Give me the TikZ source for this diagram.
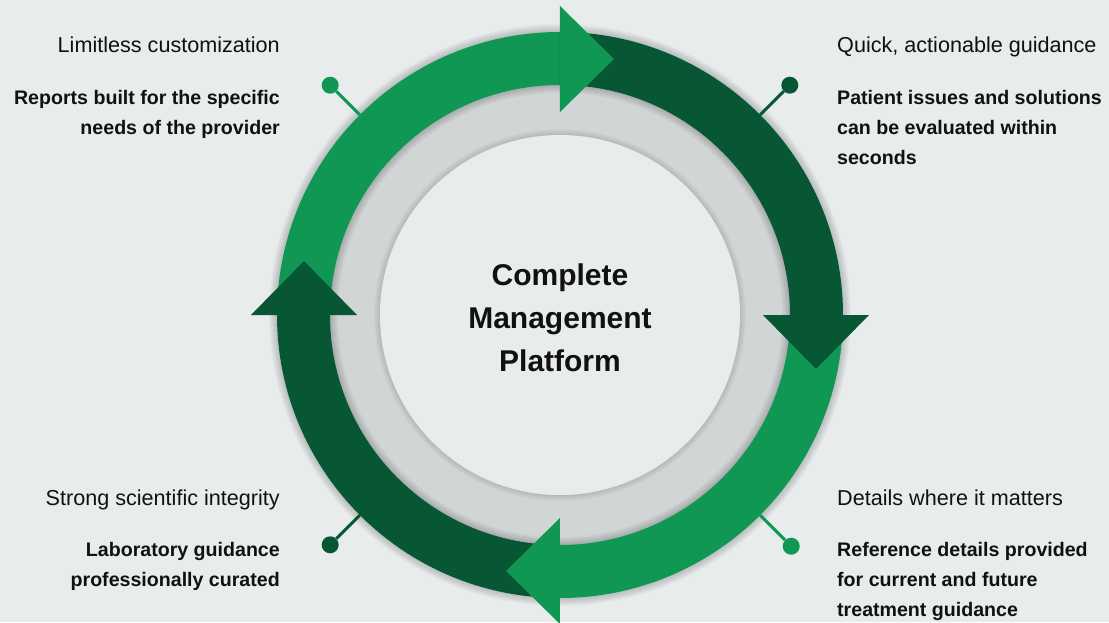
\documentclass[tikz,border=0pt]{standalone}
\usepackage{fontspec}
\setmainfont{Liberation Sans}
\usetikzlibrary{calc}
\definecolor{bgGray}{HTML}{E8ECEC}
\definecolor{bandGray}{HTML}{D1D5D6}
\definecolor{leafGreen}{HTML}{109753}
\definecolor{pineGreen}{HTML}{075734}
\definecolor{inkBlack}{HTML}{111111}
\def\ringseg[#1](#2:#3){\fill[#1] (#2:283pt) arc (#2:#3:283pt) -- (#3:230pt) arc (#3:#2:230pt) -- cycle;}
\def\ringhead[#1](#2){\fill[#1, rotate=#2] (203,0) -- (309,0) -- (256,-54) -- cycle;}
\tikzset{
	topic/.style={font=\fontsize{21.6}{30}\selectfont, text=inkBlack, inner sep=0},
	blurb/.style={font=\bfseries\fontsize{19.6}{30}\selectfont, text=inkBlack, inner sep=0},
	pindot/.style={circle, inner sep=0, minimum size=17pt},
	pinline/.style={line width=3pt},
}

\begin{document}
\begin{tikzpicture}[x=1pt, y=1pt]
			%%%%% START %%%%%
			
			\useasboundingbox (-560, -307) rectangle (549, 315);
			\fill[bgGray] (-560, -307) rectangle (549, 315);
			
			\fill[bandGray] (0, 0) circle (240pt);
			
			% soft shadow round the ring and the inner disk
			\foreach \s [evaluate=\s as \w using 53+2*\s] in {1,...,8}
				\draw[black, opacity=0.025, line width=\w pt] (0, 0) circle (256.5pt);
			\foreach \s in {1,...,6}
				\draw[black, opacity=0.02, line width=2*\s pt] (0, 0) circle (180pt);
			\fill[bgGray] (0, 0) circle (180pt);
			
			\ringseg[leafGreen](180:90)
			\ringseg[pineGreen](90:0)
			\ringseg[leafGreen](0:-90)
			\ringseg[pineGreen](-90:-180)
			
			\ringhead[leafGreen](90)
			\ringhead[pineGreen](0)
			\ringhead[leafGreen](-90)
			\ringhead[pineGreen](180)
			
			\node[pindot, fill=leafGreen] (dotTL) at (135:325) {};
			\coordinate (rimTL) at (135:283);
			\draw[pinline, leafGreen] (dotTL) -- (rimTL);
			\node[pindot, fill=pineGreen] (dotTR) at (45:325) {};
			\coordinate (rimTR) at (45:283);
			\draw[pinline, pineGreen] (dotTR) -- (rimTR);
			\node[pindot, fill=pineGreen] (dotBL) at (225:325) {};
			\coordinate (rimBL) at (225:283);
			\draw[pinline, pineGreen] (dotBL) -- (rimBL);
			\node[pindot, fill=leafGreen] (dotBR) at (-45:327) {};
			\coordinate (rimBR) at (-45:283);
			\draw[pinline, leafGreen] (dotBR) -- (rimBR);
			
			\node[font=\bfseries\fontsize{30}{43}\selectfont, text=inkBlack, align=center] (hub) at (0, -3) {Complete\\Management\\Platform};
			
			\node[topic, anchor=base east] (titleTL) at (-280, 262) {Limitless customization};
			\node[blurb, anchor=north east, align=right] (textTL) at (-280, 225) {Reports built for the specific\\needs of the provider};
			
			\node[topic, anchor=base west] (titleTR) at (277, 262) {Quick, actionable guidance};
			\node[blurb, anchor=north west, align=left] (textTR) at (277, 225) {Patient issues and solutions\\can be evaluated within\\seconds};
			
			\node[topic, anchor=base east] (titleBL) at (-280, -190) {Strong scientific integrity};
			\node[blurb, anchor=north east, align=right] (textBL) at (-280, -227) {Laboratory guidance\\professionally curated};
			
			\node[topic, anchor=base west] (titleBR) at (277, -190) {Details where it matters};
			\node[blurb, anchor=north west, align=left] (textBR) at (277, -227) {Reference details provided\\for current and future\\treatment guidance};
			
			%%%%% END %%%%%
\end{tikzpicture}
\end{document}
